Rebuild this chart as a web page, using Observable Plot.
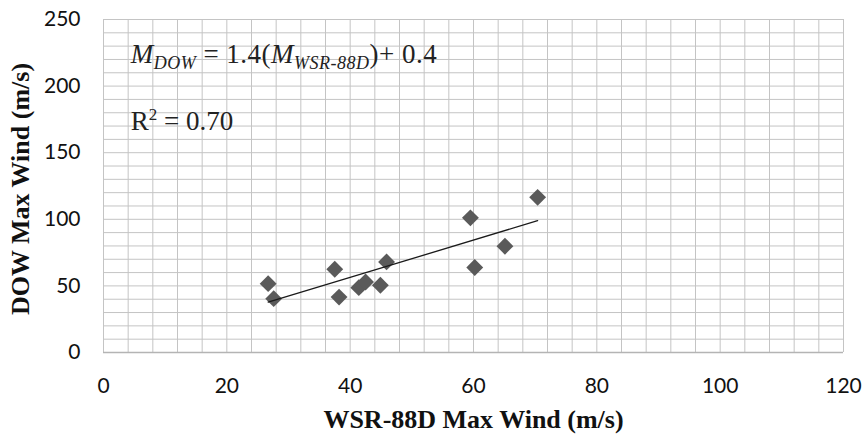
<!DOCTYPE html>
<html>
<head>
<meta charset="utf-8">
<script src="https://cdn.jsdelivr.net/npm/d3@7"></script>
<script src="https://cdn.jsdelivr.net/npm/@observablehq/plot@0.6"></script>
<style>
  html, body { margin: 0; padding: 0; background: #fff; }
</style>
</head>
<body>
<div id="chart"></div>
<script>
// Data
const wsrMaxWind = [26.7, 27.6, 37.5, 38.2, 41.4, 42.5, 44.9, 45.9, 59.5, 60.2, 65.1, 70.4];
const dowMaxWind = [51.7, 40.4, 62.5, 41.6, 48.7, 52.9, 50.5, 68.0, 101.1, 63.8, 79.8, 116.5];
const xTicks = [0, 20, 40, 60, 80, 100, 120];
const yTicks = [0, 50, 100, 150, 200, 250];
const xGrid = d3.range(0, 121, 4);
const yGrid = d3.range(0, 251, 10);
const trendSlope = 1.4;
const trendIntercept = 0.4;
const rSquared = "0.70";
const xTitle = "WSR-88D Max Wind (m/s)";
const yTitle = "DOW Max Wind (m/s)";

const points = wsrMaxWind.map((x, i) => ({x, y: dowMaxWind[i]}));
const [xmin, xmax] = d3.extent(wsrMaxWind);
const trend = [xmin, xmax].map(x => ({x, y: trendSlope * x + trendIntercept}));

const serif = "'Liberation Serif', 'Times New Roman', serif";

const plot = Plot.plot({
  width: 867,
  height: 438,
  marginLeft: 103,
  marginRight: 24,
  marginTop: 19,
  marginBottom: 86,
  style: {fontFamily: "Lato, sans-serif", fontSize: "21px", color: "#111", background: "#fff"},
  x: {domain: [0, 120], ticks: xTicks, label: null},
  y: {domain: [0, 250], ticks: yTicks, label: null},
  marks: [
    Plot.gridX(xGrid, {stroke: "#c4c4c4", strokeOpacity: 1, strokeWidth: 1}),
    Plot.gridY(yGrid, {stroke: "#c4c4c4", strokeOpacity: 1, strokeWidth: 1}),
    Plot.ruleY([0], {stroke: "#b4b4b4", strokeWidth: 1.5}),
    Plot.axisX(xTicks, {tickSize: 0, tickPadding: 26, fontSize: 21}),
    Plot.axisY(yTicks, {tickSize: 0, tickPadding: 23, fontSize: 21}),
    Plot.dot(points, {x: "x", y: "y", symbol: "diamond2", r: 7.6, fill: "#5a5a5a", stroke: "none"}),
    Plot.line(trend, {x: "x", y: "y", stroke: "#1a1a1a", strokeWidth: 1.3}),
    Plot.text([xTitle], {frameAnchor: "bottom", dy: 67, lineAnchor: "middle", textAnchor: "middle", text: d => d, fontFamily: serif, fontWeight: "bold", fontSize: 26, fill: "#111"}),
    Plot.text([yTitle], {frameAnchor: "left", dx: -83, dy: 3, rotate: -90, textAnchor: "middle", lineAnchor: "middle", text: d => d, fontFamily: serif, fontWeight: "bold", fontSize: 26, fill: "#111"}),
    Plot.text(["eq"], {x: 4.4, y: 217, text: d => d, textAnchor: "start", lineAnchor: "bottom", fontFamily: serif, fontSize: 27, fill: "#222", className: "eqn"}),
    Plot.text(["r2"], {x: 4.4, y: 167, text: d => d, textAnchor: "start", lineAnchor: "bottom", fontFamily: serif, fontSize: 27, fill: "#222", className: "rsq"})
  ]
});

// Rich text for the equation and R² annotation
const svg = d3.select(plot);
const eq = svg.select("g.eqn text");
eq.text(null).attr("letter-spacing", "0.5px");
eq.append("tspan").attr("font-style", "italic").text("M");
eq.append("tspan").attr("font-style", "italic").attr("font-size", 18).attr("dy", 6).text("DOW");
eq.append("tspan").attr("dy", -6).text(" = " + trendSlope + "(");
eq.append("tspan").attr("font-style", "italic").text("M");
eq.append("tspan").attr("font-style", "italic").attr("font-size", 18).attr("dy", 6).text("WSR-88D");
eq.append("tspan").attr("dy", -6).text(")+ " + trendIntercept);

const rs = svg.select("g.rsq text");
rs.text(null);
rs.append("tspan").text("R");
rs.append("tspan").attr("font-size", 17).attr("dy", -10).text("2");
rs.append("tspan").attr("dy", 10).text(" = " + rSquared);

document.getElementById("chart").appendChild(plot);
</script>
</body>
</html>
